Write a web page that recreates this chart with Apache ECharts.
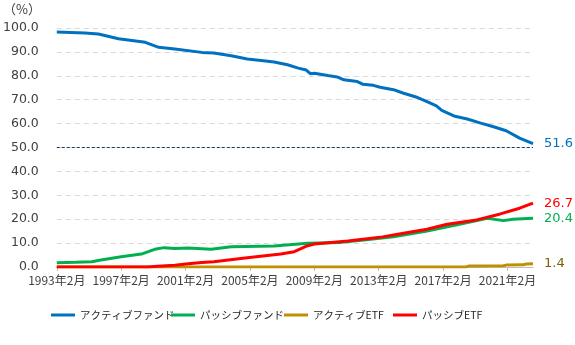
<!DOCTYPE html>
<html>
<head>
<meta charset="utf-8">
<script src="https://cdn.jsdelivr.net/npm/echarts@6/dist/echarts.min.js"></script>
<style>html,body{margin:0;padding:0;background:#fff;}#c{width:575px;height:345px;}</style>
</head>
<body>
<div id="c"></div>
<script>
// ---- data (month index counted from 1993年2月 = 0) ----
const startYear = 1993, startMonth = 2, monthCount = 356; // 1993年2月 .. 2022年9月
const xTickLabels = ['1993年2月','1997年2月','2001年2月','2005年2月','2009年2月','2013年2月','2017年2月','2021年2月'];
const yTicks = [0,10,20,30,40,50,60,70,80,90,100];
const seriesNames = ['アクティブファンド','パッシブファンド','アクティブETF','パッシブETF'];

const activeFundIdx = [0,21,31,46,66,76,88,108,117,130,142,154,162,172,180,186,189,192,202,209,214,224,228,236,241,251,258,269,276,283,287,296,306,316,325,335,345,355];
const activeFundVal = [98.3,97.9,97.5,95.5,94.0,91.9,91.2,89.8,89.5,88.4,87.0,86.3,85.8,84.6,83.2,82.4,80.9,81.1,80.1,79.5,78.3,77.6,76.5,76.0,75.2,74.2,72.8,70.9,69.2,67.4,65.5,63.2,61.9,60.2,58.8,57.0,53.9,51.6];

const passiveFundIdx = [0,14,26,33,48,63,73,80,88,98,115,130,162,187,212,229,251,276,301,321,333,340,355];
const passiveFundVal = [1.8,2.0,2.2,2.9,4.3,5.4,7.4,8.1,7.7,8.0,7.4,8.5,8.8,9.9,10.3,11.3,12.7,15.1,18.0,20.4,19.4,20.0,20.4];

const activeEtfIdx = [0,305,307,333,335,348,350,355];
const activeEtfVal = [0,0,0.4,0.5,0.8,0.9,1.3,1.4];

const passiveEtfIdx = [0,68,75,88,98,108,117,142,167,177,187,192,217,241,251,276,291,313,330,345,355];
const passiveEtfVal = [0,0,0.3,0.7,1.4,1.9,2.2,3.9,5.4,6.4,8.9,9.6,10.9,12.4,13.4,15.8,17.9,19.7,22.1,24.6,26.7];

const endLabels = ['51.6','20.4','1.4','26.7'];
const refLine = 50;

// ---- build ----
const categories = [];
for (let i = 0; i < monthCount; i++) {
  const t = (startMonth - 1) + i;
  categories.push((startYear + Math.floor(t / 12)) + '年' + ((t % 12) + 1) + '月');
}
const pairs = (idx, val) => idx.map((d, i) => [d, val[i]]);

const colors = ['#0070C0','#00B050','#BF9000','#FF0000'];
const labelColors = ['#0070C0','#00B050','#7F6000','#FF0000'];
const dataSets = [pairs(activeFundIdx, activeFundVal), pairs(passiveFundIdx, passiveFundVal), pairs(activeEtfIdx, activeEtfVal), pairs(passiveEtfIdx, passiveEtfVal)];
const legendLeft = [51, 171, 284, 393];

const series = seriesNames.map((name, k) => {
  const s = {
    name: name, type: 'line', data: dataSets[k], symbol: 'none', showSymbol: false,
    lineStyle: {color: colors[k], width: 3}, itemStyle: {color: colors[k]},
    animation: false,
    endLabel: {show: true, formatter: endLabels[k], color: labelColors[k], fontSize: 13, fontFamily: 'DejaVu Sans', distance: 11}
  };
  if (k === 0) {
    s.markLine = {silent: true, symbol: 'none', label: {show: false},
      lineStyle: {color: '#1F3864', type: [3, 2], width: 1},
      data: [{yAxis: refLine}]};
  }
  return s;
});

const chart = echarts.init(document.getElementById('c'), null, {renderer: 'canvas'});
chart.setOption({
  animation: false,
  color: colors,
  grid: {left: 55, right: 42, top: 28, bottom: 78, containLabel: false},
  graphic: [{type: 'text', left: 3, top: 3, style: {text: '（%）', fontSize: 13, fontFamily: 'Noto Sans CJK JP', fill: '#404040'}}],
  legend: seriesNames.map((n, k) => ({
    data: [n], left: legendLeft[k], top: 308, itemWidth: 24, itemHeight: 3, padding: 0,
    icon: 'rect',
    textStyle: {fontSize: 10.5, fontFamily: 'Noto Sans CJK JP', color: '#262626', lineHeight: 14}
  })),
  xAxis: {
    type: 'category', data: categories, boundaryGap: false,
    axisLine: {lineStyle: {color: '#BFBFBF', width: 1}},
    axisTick: {show: true, interval: 47, length: 4, lineStyle: {color: '#BFBFBF'}},
    axisLabel: {interval: 47, fontSize: 12, fontFamily: 'Noto Sans CJK JP', color: '#404040', margin: 7,
      formatter: v => xTickLabels.indexOf(v) >= 0 ? v : ''},
    splitLine: {show: false}
  },
  yAxis: {
    type: 'value', min: yTicks[0], max: yTicks[yTicks.length - 1], interval: 10,
    axisLine: {show: false}, axisTick: {show: false},
    axisLabel: {formatter: v => v.toFixed(1), fontSize: 12.5, fontFamily: 'DejaVu Sans', color: '#404040', margin: 18},
    splitLine: {lineStyle: {color: '#D9D9D9', type: [5, 4], width: 1}}
  },
  series: series
});
</script>
</body>
</html>
